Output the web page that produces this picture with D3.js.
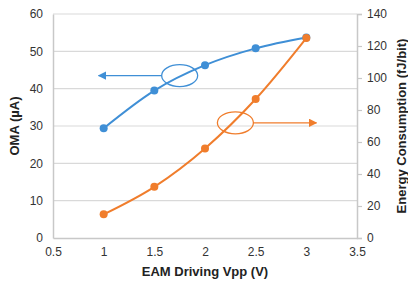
<!DOCTYPE html>
<html>
<head>
<meta charset="utf-8">
<script src="https://cdn.jsdelivr.net/npm/d3@7"></script>
<style>
  body { margin: 0; background: #fff; }
  svg { display: block; font-family: "Liberation Sans", Arial, sans-serif; }
</style>
</head>
<body>
<div id="chart"></div>
<script>
const vpp = [1, 1.5, 2, 2.5, 3];
const oma = [29.4, 39.5, 46.3, 50.8, 53.7];
const energy = [14.8, 32, 56, 86.9, 125];
const xTicks = [0.5, 1, 1.5, 2, 2.5, 3, 3.5];
const leftTicks = [0, 10, 20, 30, 40, 50, 60];
const rightTicks = [0, 20, 40, 60, 80, 100, 120, 140];

const width = 408, height = 284;
const m = { top: 14, right: 51, bottom: 46, left: 53 };
const blue = '#3f8fd6', orange = '#f07d2c', grid = '#d9d9d9', axisCol = '#c8c8c8';

const svg = d3.select('#chart').append('svg')
    .attr('width', width)
    .attr('height', height);

const x = d3.scaleLinear().domain([0.5, 3.5]).range([m.left, width - m.right]);
const yL = d3.scaleLinear().domain([0, 60]).range([height - m.bottom, m.top]);
const yR = d3.scaleLinear().domain([0, 140]).range([height - m.bottom, m.top]);

// gridlines
svg.append('g')
    .selectAll('line')
    .data(leftTicks.slice(1))
    .join('line')
    .attr('x1', m.left).attr('x2', width - m.right)
    .attr('y1', d => yL(d)).attr('y2', d => yL(d))
    .attr('stroke', grid).attr('stroke-width', 1.2);

// left axis
const leftAxis = svg.append('g')
    .attr('transform', `translate(${m.left},0)`)
    .call(d3.axisLeft(yL).tickValues(leftTicks).tickSize(0).tickPadding(10));

// right axis
const rightAxis = svg.append('g')
    .attr('transform', `translate(${width - m.right},0)`)
    .call(d3.axisRight(yR).tickValues(rightTicks).tickSize(5).tickPadding(5));

// bottom axis
const bottomAxis = svg.append('g')
    .attr('transform', `translate(0,${height - m.bottom})`)
    .call(d3.axisBottom(x).tickValues(xTicks).tickSize(0).tickPadding(9).tickFormat(d3.format('')));

[leftAxis, rightAxis, bottomAxis].forEach(a => {
    a.select('.domain').attr('stroke', axisCol).attr('stroke-width', 1.5);
    a.selectAll('.tick line').attr('stroke', axisCol).attr('stroke-width', 1.2);
    a.selectAll('text').attr('fill', '#333').style('font-size', '12px');
});

// series
const series = [
    { vals: oma, y: yL, color: blue },
    { vals: energy, y: yR, color: orange }
];
series.forEach(s => {
    const line = d3.line()
        .x((d, i) => x(vpp[i]))
        .y(d => s.y(d))
        .curve(d3.curveMonotoneX);
    svg.append('path')
        .datum(s.vals)
        .attr('d', line)
        .attr('fill', 'none')
        .attr('stroke', s.color)
        .attr('stroke-width', 2);
    svg.append('g')
        .selectAll('circle')
        .data(s.vals)
        .join('circle')
        .attr('cx', (d, i) => x(vpp[i]))
        .attr('cy', d => s.y(d))
        .attr('r', 4)
        .attr('fill', s.color);
});

// ellipse + arrow annotations
const defs = svg.append('defs');
[['arrBlue', blue], ['arrOrange', orange]].forEach(([id, c]) => {
    defs.append('marker')
        .attr('id', id)
        .attr('viewBox', '0 0 10 10')
        .attr('refX', 9).attr('refY', 5)
        .attr('markerWidth', 7).attr('markerHeight', 7)
        .attr('orient', 'auto')
        .append('path')
        .attr('d', 'M0,0L10,5L0,10z')
        .attr('fill', c);
});

const notes = [
    { cx: 1.75, cy: yL(43.5), end: 0.95, color: blue, dir: -1, marker: 'arrBlue' },
    { cx: 2.3, cy: yR(72), end: 3.1, color: orange, dir: 1, marker: 'arrOrange' }
];
notes.forEach(n => {
    svg.append('ellipse')
        .attr('cx', x(n.cx)).attr('cy', n.cy)
        .attr('rx', 18).attr('ry', 11)
        .attr('fill', 'none')
        .attr('stroke', n.color)
        .attr('stroke-width', 1.3);
    svg.append('line')
        .attr('x1', x(n.cx) + n.dir * 18).attr('x2', x(n.end))
        .attr('y1', n.cy).attr('y2', n.cy)
        .attr('stroke', n.color)
        .attr('stroke-width', 1.2)
        .attr('marker-end', `url(#${n.marker})`);
});

// axis titles
svg.append('text')
    .attr('x', x(2)).attr('y', height - 8)
    .attr('text-anchor', 'middle')
    .style('font-size', '13px').style('font-weight', 'bold')
    .attr('fill', '#222')
    .text('EAM Driving Vpp (V)');

svg.append('text')
    .attr('transform', `translate(19,${yL(30)}) rotate(-90)`)
    .attr('text-anchor', 'middle')
    .style('font-size', '13px').style('font-weight', 'bold')
    .attr('fill', '#222')
    .text('OMA (µA)');

svg.append('text')
    .attr('transform', `translate(${width - 2},${yL(30)}) rotate(-90)`)
    .attr('text-anchor', 'middle')
    .style('font-size', '13px').style('font-weight', 'bold')
    .attr('fill', '#222')
    .text('Energy Consumption (fJ/bit)');
</script>
</body>
</html>
